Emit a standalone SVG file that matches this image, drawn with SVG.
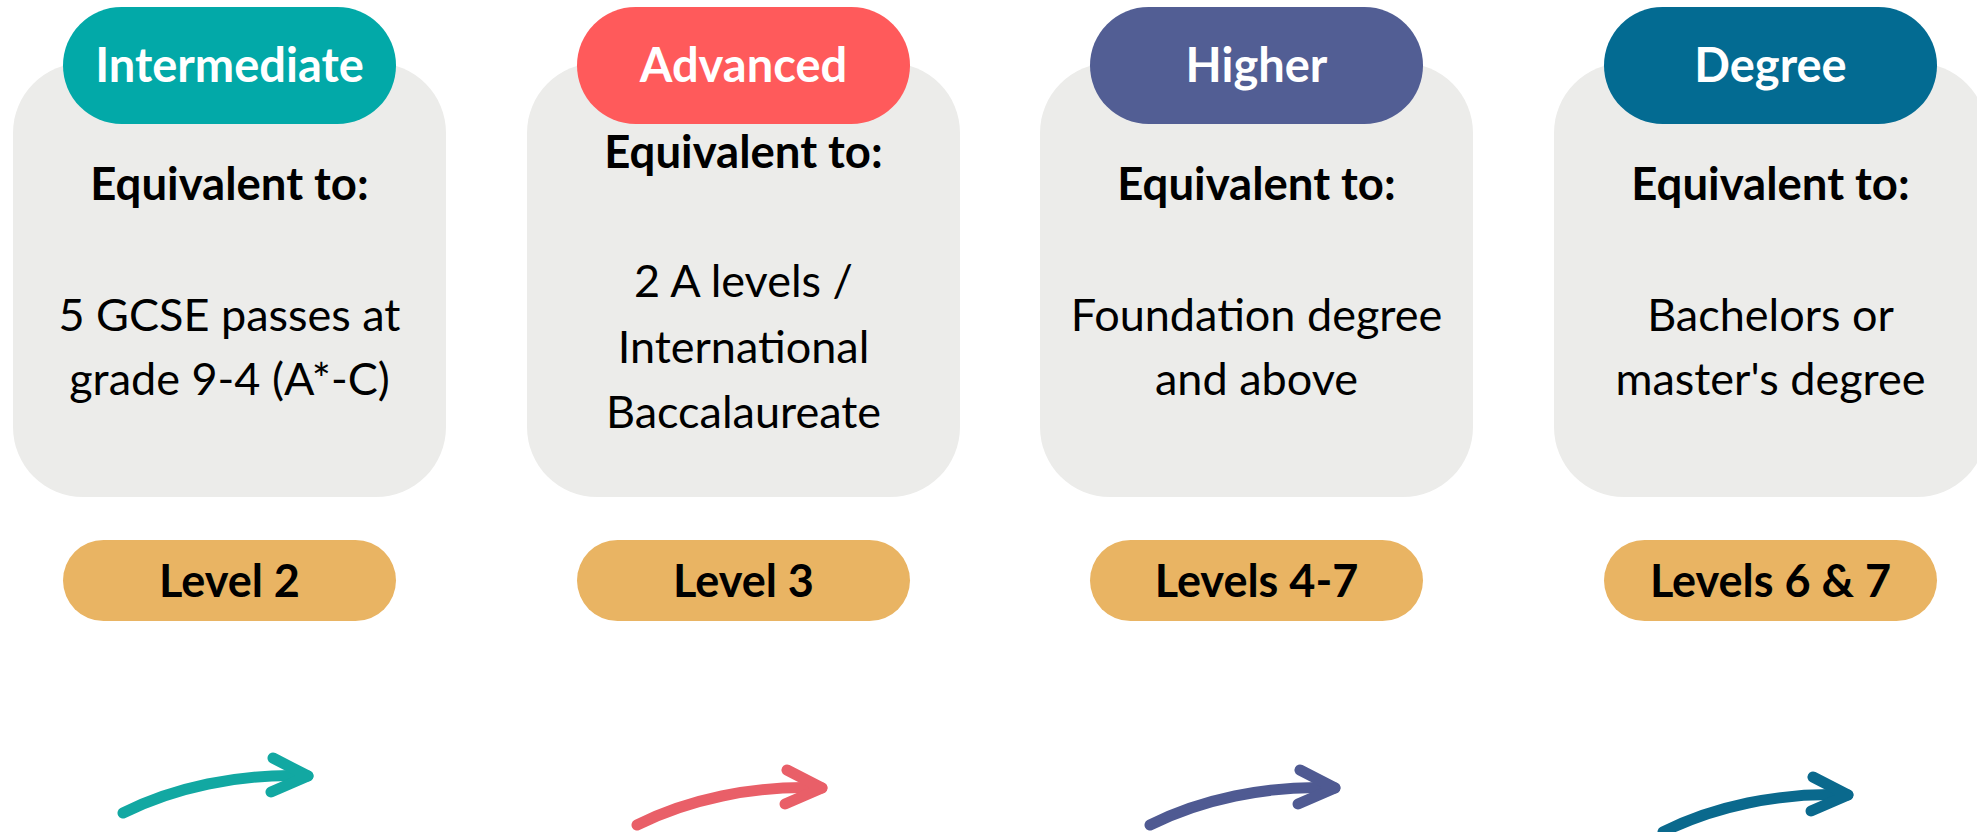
<svg xmlns="http://www.w3.org/2000/svg" width="1977" height="832" viewBox="0 0 1977 832">
<defs>
<style>
.card{fill:#ECECEA}
.tag{stroke:none}
.lvl{fill:#E9B463}
.t{font-family:Lato,"Noto Sans","Liberation Sans",sans-serif;text-anchor:middle}
.title{font-size:47px;font-weight:700;fill:#FFFFFF}
.eq{font-size:45.5px;font-weight:700;fill:#000000}
.body{font-size:45px;font-weight:400;fill:#000000}
.lt{font-size:45px;font-weight:700;fill:#000000}
.arr{fill:none;stroke-width:11;stroke-linecap:round;stroke-linejoin:round}
</style>
<g id="arrowShape">
<path d="M -185 37 C -135 12, -70 -3, 0 0"/>
<path d="M -35 -18 L 0 0 L -37 16"/>
</g>
</defs>
<rect width="1977" height="832" fill="#FFFFFF"/>

<g id="node-intermediate">
<rect class="card" x="13" y="63" width="433" height="434" rx="70"/>
<rect class="tag" x="63" y="7" width="333" height="117" rx="58.5" fill="#02A9A8"/>
<text class="t title" x="229.5" y="82">Intermediate</text>
<text class="t eq" x="229.5" y="200">Equivalent to:</text>
<text class="t body" x="229.5" y="331">5 GCSE passes at</text>
<text class="t body" x="229.5" y="395">grade 9-4 (A*-C)</text>
<rect class="lvl" x="63" y="540" width="333" height="81" rx="40.5"/>
<text class="t lt" x="229.5" y="597">Level 2</text>
</g>

<g id="node-advanced">
<rect class="card" x="527" y="63" width="433" height="434" rx="70"/>
<rect class="tag" x="577" y="7" width="333" height="117" rx="58.5" fill="#FF5A5B"/>
<text class="t title" x="743.5" y="82">Advanced</text>
<text class="t eq" x="743.5" y="168">Equivalent to:</text>
<text class="t body" x="743.5" y="297">2 A levels /</text>
<text class="t body" x="743.5" y="363">International</text>
<text class="t body" x="743.5" y="428">Baccalaureate</text>
<rect class="lvl" x="577" y="540" width="333" height="81" rx="40.5"/>
<text class="t lt" x="743.5" y="597">Level 3</text>
</g>

<g id="node-higher">
<rect class="card" x="1040" y="63" width="433" height="434" rx="70"/>
<rect class="tag" x="1090" y="7" width="333" height="117" rx="58.5" fill="#525E94"/>
<text class="t title" x="1256.5" y="82">Higher</text>
<text class="t eq" x="1256.5" y="200">Equivalent to:</text>
<text class="t body" x="1256.5" y="331">Foundation degree</text>
<text class="t body" x="1256.5" y="395">and above</text>
<rect class="lvl" x="1090" y="540" width="333" height="81" rx="40.5"/>
<text class="t lt" x="1256.5" y="597">Levels 4-7</text>
</g>

<g id="node-degree">
<rect class="card" x="1554" y="63" width="433" height="434" rx="70"/>
<rect class="tag" x="1604" y="7" width="333" height="117" rx="58.5" fill="#036B92"/>
<text class="t title" x="1770.5" y="82">Degree</text>
<text class="t eq" x="1770.5" y="200">Equivalent to:</text>
<text class="t body" x="1770.5" y="331">Bachelors or</text>
<text class="t body" x="1770.5" y="395">master's degree</text>
<rect class="lvl" x="1604" y="540" width="333" height="81" rx="40.5"/>
<text class="t lt" x="1770.5" y="597">Levels 6 &amp; 7</text>
</g>

<g id="connectors">
<use href="#arrowShape" class="arr" stroke="#12A8A2" transform="translate(308,776)"/>
<use href="#arrowShape" class="arr" stroke="#E95F68" transform="translate(822,788)"/>
<use href="#arrowShape" class="arr" stroke="#4F5A92" transform="translate(1335,788)"/>
<use href="#arrowShape" class="arr" stroke="#0A698D" transform="translate(1848,795)"/>
</g>
</svg>
